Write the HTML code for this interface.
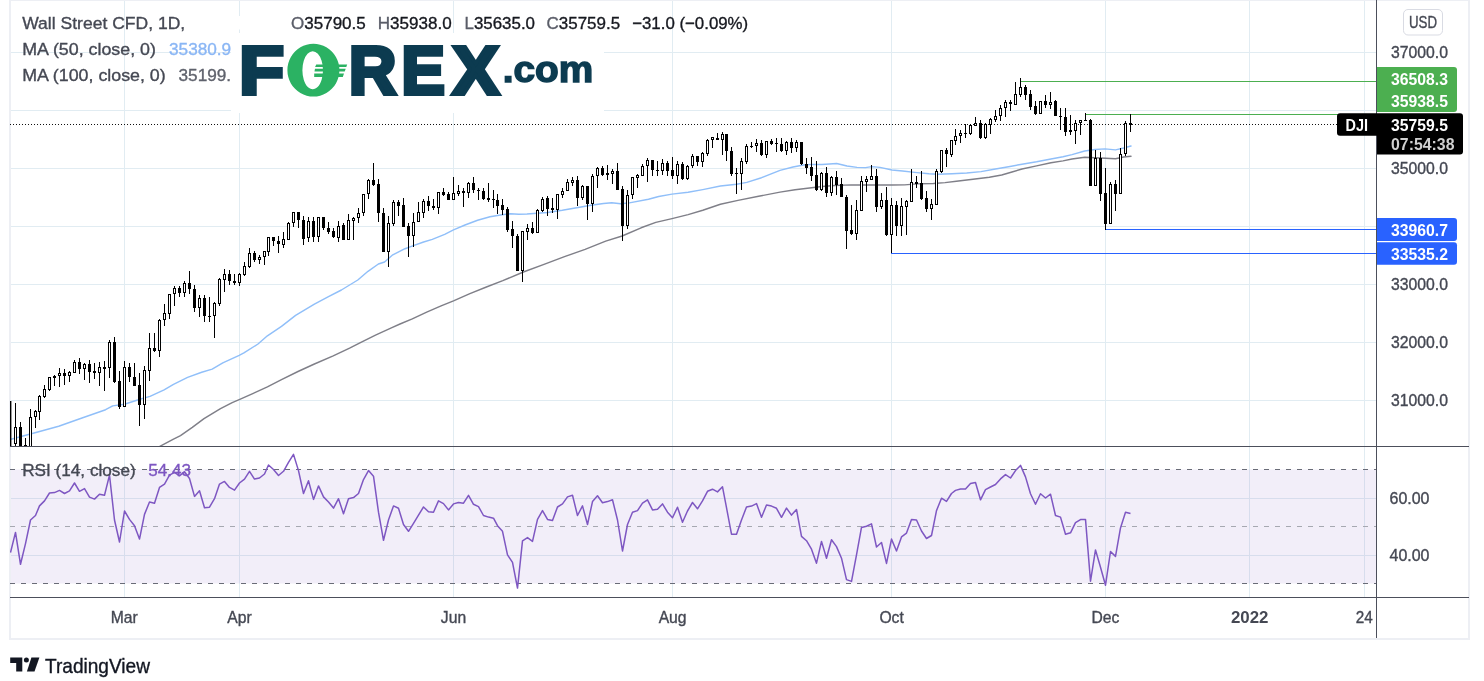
<!DOCTYPE html>
<html lang="en"><head><meta charset="utf-8"><title>Wall Street CFD chart</title>
<style>html,body{margin:0;padding:0;background:#fff}body{width:1484px;height:681px;overflow:hidden}</style></head>
<body>
<svg width="1484" height="681" viewBox="0 0 1484 681" style="display:block;font-family:'Liberation Sans',sans-serif">
<rect width="1484" height="681" fill="#fff"/>
<g stroke="#e1ecf2" stroke-width="1" shape-rendering="crispEdges">
<line x1="124.5" y1="1" x2="124.5" y2="597"/>
<line x1="239.5" y1="1" x2="239.5" y2="597"/>
<line x1="453.5" y1="1" x2="453.5" y2="597"/>
<line x1="672.5" y1="1" x2="672.5" y2="597"/>
<line x1="891.5" y1="1" x2="891.5" y2="597"/>
<line x1="1105.5" y1="1" x2="1105.5" y2="597"/>
<line x1="1249.5" y1="1" x2="1249.5" y2="597"/>
<line x1="1364.5" y1="1" x2="1364.5" y2="597"/>
<line x1="10" y1="52.5" x2="1376" y2="52.5"/>
<line x1="10" y1="110.5" x2="1376" y2="110.5"/>
<line x1="10" y1="168.5" x2="1376" y2="168.5"/>
<line x1="10" y1="226.5" x2="1376" y2="226.5"/>
<line x1="10" y1="284.5" x2="1376" y2="284.5"/>
<line x1="10" y1="342.5" x2="1376" y2="342.5"/>
<line x1="10" y1="400.5" x2="1376" y2="400.5"/>
<line x1="10" y1="498.5" x2="1376" y2="498.5"/>
<line x1="10" y1="555.5" x2="1376" y2="555.5"/>
</g>
<rect x="10" y="469.5" width="1366" height="114" fill="rgba(126,87,194,0.1)"/>
<g fill="#edeff4" shape-rendering="crispEdges"><rect x="9" y="0" width="2" height="640"/><rect x="1468" y="0" width="2" height="640"/><rect x="9" y="638" width="1461" height="2"/><rect x="9" y="0" width="1461" height="1"/></g>
<defs><clipPath id="cp"><rect x="10" y="0" width="1366" height="446"/></clipPath><clipPath id="cr"><rect x="10" y="447" width="1366" height="150"/></clipPath><clipPath id="lg"><rect x="0" y="0" width="231" height="120"/></clipPath></defs>
<g stroke-width="1" fill="none" shape-rendering="crispEdges">
<line x1="10" y1="469.5" x2="1376" y2="469.5" stroke="#696c77" stroke-dasharray="5 6"/>
<line x1="10" y1="526.5" x2="1376" y2="526.5" stroke="#a6a8b1" stroke-dasharray="5 6"/>
<line x1="10" y1="583.5" x2="1376" y2="583.5" stroke="#696c77" stroke-dasharray="5 6"/>
</g>
<polyline clip-path="url(#cr)" points="10.5,552.6 15.5,532.4 20.5,564.3 25.5,543.6 30.5,520.0 35.5,515.5 39.5,505.9 44.5,500.9 49.5,493.0 54.5,492.6 59.5,490.4 64.5,493.5 69.5,490.8 74.5,483.0 79.5,491.3 84.5,488.6 89.5,497.1 94.5,499.1 99.5,494.2 104.5,495.3 109.5,475.1 114.5,520.0 119.5,542.0 124.5,511.0 129.5,519.4 134.5,525.7 139.5,539.1 144.5,514.4 149.5,502.0 154.5,503.2 159.5,487.4 164.5,484.1 169.5,475.1 174.5,472.4 179.5,475.8 184.5,471.7 189.5,478.5 194.5,496.4 199.5,490.8 204.5,507.7 209.5,507.2 214.5,498.7 219.5,484.1 224.5,481.4 229.5,487.4 234.5,490.1 239.5,483.0 244.5,479.1 249.5,471.3 254.5,479.1 259.5,478.0 264.5,474.0 268.5,465.0 273.5,469.5 278.5,475.5 283.5,471.3 288.5,462.3 293.5,454.4 298.5,470.6 303.5,493.5 308.5,480.7 313.5,499.4 318.5,485.9 323.5,496.9 328.5,502.0 333.5,508.1 338.5,498.7 343.5,513.7 348.5,498.7 353.5,497.6 358.5,493.5 363.5,479.6 368.5,470.6 373.5,476.2 378.5,512.2 383.5,540.3 388.5,520.0 393.5,505.9 398.5,508.3 403.5,524.5 408.5,531.3 413.5,523.4 418.5,515.1 423.5,507.0 428.5,511.7 433.5,512.2 438.5,500.9 443.5,503.6 448.5,509.9 453.5,503.9 458.5,502.5 463.5,503.2 468.5,495.3 473.5,504.3 478.5,506.6 483.5,515.5 488.5,517.1 493.5,518.2 497.5,525.7 502.5,531.3 507.5,554.9 512.5,562.3 517.5,588.1 522.5,540.9 527.5,537.6 532.5,541.4 537.5,519.4 542.5,510.6 547.5,519.4 552.5,520.5 557.5,507.0 562.5,503.9 567.5,496.9 572.5,495.3 577.5,515.5 582.5,505.9 587.5,524.5 592.5,501.6 597.5,495.8 602.5,502.7 607.5,501.6 612.5,499.8 617.5,520.0 622.5,551.0 627.5,524.5 632.5,512.2 637.5,510.6 642.5,503.2 647.5,499.8 652.5,509.9 657.5,509.2 662.5,503.9 667.5,512.2 672.5,517.8 677.5,507.2 682.5,522.3 687.5,511.0 692.5,502.5 697.5,508.8 702.5,500.9 707.5,491.3 712.5,489.2 717.5,491.9 722.5,486.8 726.5,507.7 731.5,534.2 736.5,534.2 741.5,520.0 746.5,507.0 751.5,506.1 756.5,503.6 761.5,517.3 766.5,505.0 771.5,506.1 776.5,508.3 781.5,517.3 786.5,508.1 791.5,515.1 796.5,509.5 801.5,536.4 806.5,540.7 811.5,549.2 816.5,563.2 821.5,541.4 826.5,558.2 831.5,539.8 836.5,546.6 841.5,558.2 846.5,579.6 851.5,581.4 856.5,554.9 861.5,527.4 866.5,526.3 871.5,523.9 876.5,547.0 881.5,542.5 886.5,563.4 891.5,539.1 896.5,551.0 901.5,536.9 906.5,533.1 911.5,519.6 916.5,520.0 921.5,531.0 926.5,538.5 931.5,535.5 936.5,510.6 941.5,498.2 946.5,501.4 951.5,493.5 955.5,490.4 960.5,489.0 965.5,489.0 970.5,483.6 975.5,482.5 980.5,499.8 985.5,489.7 990.5,487.0 995.5,484.5 1000.5,478.9 1005.5,474.6 1010.5,478.0 1015.5,470.6 1020.5,465.4 1025.5,476.9 1030.5,493.7 1035.5,504.3 1040.5,493.7 1045.5,498.0 1050.5,494.2 1055.5,515.5 1060.5,517.1 1065.5,534.2 1070.5,532.8 1075.5,522.7 1080.5,519.6 1085.5,519.4 1090.5,581.2 1095.5,549.9 1100.5,567.2 1105.5,585.2 1110.5,551.5 1115.5,556.4 1120.5,527.9 1125.5,512.2 1130.5,513.5" fill="none" stroke="#7e57c2" stroke-width="1.5" stroke-linejoin="round"/>
<g clip-path="url(#cp)" fill="none" stroke-linejoin="round" stroke-linecap="round">
<polyline points="159.4,446.6 173.5,439.1 180.5,435.6 192.3,427.4 204.0,418.7 220.5,408.6 232.2,402.7 239.2,399.7 253.3,393.3 267.4,386.8 281.5,379.7 298.0,371.5 314.4,364.0 333.2,355.8 349.6,348.2 361.4,342.1 375.5,335.1 391.9,327.6 400.0,324.0 412.3,318.9 426.7,312.1 441.1,305.9 453.5,300.8 469.9,293.6 486.4,287.0 502.8,280.6 523.4,272.0 544.0,264.4 564.5,256.6 585.1,249.4 605.7,241.1 622.1,236.0 641.1,227.8 655.8,222.4 672.0,218.6 688.1,214.6 702.8,210.2 720.4,204.3 738.0,200.4 758.6,196.3 780.0,192.1 795.0,189.7 807.5,188.2 822.0,186.5 834.7,185.5 851.0,184.9 871.7,184.9 892.0,185.0 904.6,184.9 917.0,183.9 933.4,183.5 945.0,182.6 956.4,181.3 973.0,179.2 989.3,177.2 1001.7,175.0 1012.0,172.0 1022.0,169.0 1036.6,165.9 1051.0,162.8 1063.0,160.9 1072.0,159.0 1084.7,157.3 1095.0,157.7 1105.4,158.3 1115.5,158.7 1123.7,157.0 1131.0,156.3" stroke="#7f7f88" stroke-width="1.45"/>
<polyline points="10.0,439.5 35.0,432.7 58.7,426.2 82.0,418.0 105.6,409.7 112.7,405.9 124.4,404.3 140.8,399.0 150.0,396.4 164.1,389.8 173.5,384.4 187.6,377.4 201.7,372.2 212.2,369.1 222.8,362.8 239.2,355.3 243.9,352.9 258.0,344.0 267.4,335.8 281.5,326.4 295.6,315.4 314.4,304.1 328.5,296.6 341.4,290.0 357.8,280.0 368.0,271.3 378.4,264.0 384.6,262.0 392.8,254.8 405.0,248.7 413.4,245.6 423.6,242.0 432.3,239.4 444.7,234.3 453.5,229.8 465.0,225.0 477.6,220.3 490.0,216.8 502.0,214.8 510.5,213.7 518.7,214.3 527.0,214.0 537.0,213.3 547.5,212.5 562.3,210.3 576.7,207.7 591.0,205.2 603.5,203.5 611.7,202.8 620.6,203.8 629.4,202.9 648.5,199.2 658.7,196.5 672.0,194.1 688.1,192.3 702.8,189.6 720.4,186.0 736.6,184.2 746.8,182.4 761.5,177.7 780.0,170.4 793.0,167.0 803.4,165.0 811.6,164.4 822.0,164.5 836.7,163.5 847.0,166.0 857.0,167.4 865.5,167.6 871.7,166.6 880.0,167.4 892.0,170.0 902.5,171.0 917.0,172.6 929.0,173.8 937.5,174.2 952.0,173.7 966.7,173.0 981.0,171.6 995.5,169.0 1010.0,166.5 1022.0,164.2 1036.6,161.8 1051.0,159.0 1063.0,156.8 1072.0,154.6 1084.7,151.0 1095.0,149.5 1105.0,148.9 1115.5,149.9 1123.7,148.0 1131.0,146.0" stroke="#90bff9" stroke-width="1.45"/>
</g>
<g shape-rendering="crispEdges" stroke-width="1">
<line x1="1020" y1="81.5" x2="1376" y2="81.5" stroke="#4caf50"/>
<line x1="1085" y1="114.5" x2="1376" y2="114.5" stroke="#4caf50"/>
<line x1="1105" y1="229.5" x2="1376" y2="229.5" stroke="#2962ff"/>
<line x1="891" y1="253.5" x2="1376" y2="253.5" stroke="#2962ff"/>
</g>
<line x1="10" y1="124.5" x2="1337" y2="124.5" stroke="#111" stroke-width="1" stroke-dasharray="1 2" shape-rendering="crispEdges"/>
<g clip-path="url(#cp)" shape-rendering="crispEdges">
<rect x="10" y="401" width="1.4" height="46" fill="#000" shape-rendering="geometricPrecision"/>
<rect x="15" y="403" width="1" height="44" fill="#000"/>
<rect x="14" y="427" width="3" height="17" fill="#000"/>
<rect x="15" y="428" width="1" height="15" fill="#fff"/>
<rect x="20" y="422" width="1" height="25" fill="#000"/>
<rect x="19" y="427" width="3" height="20" fill="#000"/>
<rect x="25" y="438" width="1" height="9" fill="#000"/>
<rect x="24" y="445" width="3" height="2" fill="#000"/>
<rect x="30" y="409" width="1" height="38" fill="#000"/>
<rect x="29" y="417" width="3" height="30" fill="#000"/>
<rect x="30" y="418" width="1" height="28" fill="#fff"/>
<rect x="35" y="410" width="1" height="18" fill="#000"/>
<rect x="34" y="411" width="3" height="6" fill="#000"/>
<rect x="35" y="412" width="1" height="4" fill="#fff"/>
<rect x="39" y="395" width="1" height="25" fill="#000"/>
<rect x="38" y="396" width="3" height="16" fill="#000"/>
<rect x="39" y="397" width="1" height="14" fill="#fff"/>
<rect x="44" y="385" width="1" height="13" fill="#000"/>
<rect x="43" y="389" width="3" height="8" fill="#000"/>
<rect x="44" y="390" width="1" height="6" fill="#fff"/>
<rect x="49" y="377" width="1" height="14" fill="#000"/>
<rect x="48" y="377" width="3" height="13" fill="#000"/>
<rect x="49" y="378" width="1" height="11" fill="#fff"/>
<rect x="54" y="375" width="1" height="11" fill="#000"/>
<rect x="53" y="376" width="3" height="2" fill="#000"/>
<rect x="59" y="368" width="1" height="19" fill="#000"/>
<rect x="58" y="373" width="3" height="3" fill="#000"/>
<rect x="59" y="374" width="1" height="1" fill="#fff"/>
<rect x="64" y="369" width="1" height="16" fill="#000"/>
<rect x="63" y="373" width="3" height="3" fill="#000"/>
<rect x="69" y="371" width="1" height="11" fill="#000"/>
<rect x="68" y="372" width="3" height="4" fill="#000"/>
<rect x="69" y="373" width="1" height="2" fill="#fff"/>
<rect x="74" y="360" width="1" height="13" fill="#000"/>
<rect x="73" y="362" width="3" height="11" fill="#000"/>
<rect x="74" y="363" width="1" height="9" fill="#fff"/>
<rect x="79" y="358" width="1" height="16" fill="#000"/>
<rect x="78" y="362" width="3" height="7" fill="#000"/>
<rect x="84" y="363" width="1" height="17" fill="#000"/>
<rect x="83" y="364" width="3" height="5" fill="#000"/>
<rect x="84" y="365" width="1" height="3" fill="#fff"/>
<rect x="89" y="360" width="1" height="23" fill="#000"/>
<rect x="88" y="364" width="3" height="8" fill="#000"/>
<rect x="94" y="363" width="1" height="16" fill="#000"/>
<rect x="93" y="371" width="3" height="2" fill="#000"/>
<rect x="99" y="362" width="1" height="24" fill="#000"/>
<rect x="98" y="367" width="3" height="6" fill="#000"/>
<rect x="99" y="368" width="1" height="4" fill="#fff"/>
<rect x="104" y="361" width="1" height="30" fill="#000"/>
<rect x="103" y="367" width="3" height="2" fill="#000"/>
<rect x="109" y="340" width="1" height="38" fill="#000"/>
<rect x="108" y="342" width="3" height="26" fill="#000"/>
<rect x="109" y="343" width="1" height="24" fill="#fff"/>
<rect x="114" y="337" width="1" height="46" fill="#000"/>
<rect x="113" y="342" width="3" height="40" fill="#000"/>
<rect x="119" y="371" width="1" height="38" fill="#000"/>
<rect x="118" y="381" width="3" height="26" fill="#000"/>
<rect x="124" y="361" width="1" height="46" fill="#000"/>
<rect x="123" y="367" width="3" height="40" fill="#000"/>
<rect x="124" y="368" width="1" height="38" fill="#fff"/>
<rect x="129" y="363" width="1" height="19" fill="#000"/>
<rect x="128" y="367" width="3" height="10" fill="#000"/>
<rect x="134" y="363" width="1" height="23" fill="#000"/>
<rect x="133" y="377" width="3" height="9" fill="#000"/>
<rect x="139" y="373" width="1" height="53" fill="#000"/>
<rect x="138" y="385" width="3" height="20" fill="#000"/>
<rect x="144" y="366" width="1" height="53" fill="#000"/>
<rect x="143" y="370" width="3" height="35" fill="#000"/>
<rect x="144" y="371" width="1" height="33" fill="#fff"/>
<rect x="149" y="333" width="1" height="48" fill="#000"/>
<rect x="148" y="348" width="3" height="23" fill="#000"/>
<rect x="149" y="349" width="1" height="21" fill="#fff"/>
<rect x="154" y="333" width="1" height="19" fill="#000"/>
<rect x="153" y="348" width="3" height="3" fill="#000"/>
<rect x="159" y="319" width="1" height="38" fill="#000"/>
<rect x="158" y="320" width="3" height="31" fill="#000"/>
<rect x="159" y="321" width="1" height="29" fill="#fff"/>
<rect x="164" y="304" width="1" height="22" fill="#000"/>
<rect x="163" y="313" width="3" height="7" fill="#000"/>
<rect x="164" y="314" width="1" height="5" fill="#fff"/>
<rect x="169" y="294" width="1" height="25" fill="#000"/>
<rect x="168" y="294" width="3" height="20" fill="#000"/>
<rect x="169" y="295" width="1" height="18" fill="#fff"/>
<rect x="174" y="286" width="1" height="20" fill="#000"/>
<rect x="173" y="288" width="3" height="6" fill="#000"/>
<rect x="174" y="289" width="1" height="4" fill="#fff"/>
<rect x="179" y="286" width="1" height="11" fill="#000"/>
<rect x="178" y="288" width="3" height="5" fill="#000"/>
<rect x="184" y="281" width="1" height="16" fill="#000"/>
<rect x="183" y="283" width="3" height="10" fill="#000"/>
<rect x="184" y="284" width="1" height="8" fill="#fff"/>
<rect x="189" y="271" width="1" height="23" fill="#000"/>
<rect x="188" y="283" width="3" height="6" fill="#000"/>
<rect x="194" y="285" width="1" height="27" fill="#000"/>
<rect x="193" y="289" width="3" height="19" fill="#000"/>
<rect x="199" y="295" width="1" height="22" fill="#000"/>
<rect x="198" y="298" width="3" height="10" fill="#000"/>
<rect x="199" y="299" width="1" height="8" fill="#fff"/>
<rect x="204" y="295" width="1" height="27" fill="#000"/>
<rect x="203" y="298" width="3" height="18" fill="#000"/>
<rect x="209" y="297" width="1" height="25" fill="#000"/>
<rect x="208" y="316" width="3" height="1" fill="#000"/>
<rect x="214" y="302" width="1" height="36" fill="#000"/>
<rect x="213" y="303" width="3" height="13" fill="#000"/>
<rect x="214" y="304" width="1" height="11" fill="#fff"/>
<rect x="219" y="278" width="1" height="28" fill="#000"/>
<rect x="218" y="279" width="3" height="25" fill="#000"/>
<rect x="219" y="280" width="1" height="23" fill="#fff"/>
<rect x="224" y="269" width="1" height="23" fill="#000"/>
<rect x="223" y="274" width="3" height="6" fill="#000"/>
<rect x="224" y="275" width="1" height="4" fill="#fff"/>
<rect x="229" y="270" width="1" height="15" fill="#000"/>
<rect x="228" y="274" width="3" height="7" fill="#000"/>
<rect x="234" y="274" width="1" height="11" fill="#000"/>
<rect x="233" y="281" width="3" height="2" fill="#000"/>
<rect x="239" y="273" width="1" height="13" fill="#000"/>
<rect x="238" y="274" width="3" height="9" fill="#000"/>
<rect x="239" y="275" width="1" height="7" fill="#fff"/>
<rect x="244" y="262" width="1" height="14" fill="#000"/>
<rect x="243" y="266" width="3" height="9" fill="#000"/>
<rect x="244" y="267" width="1" height="7" fill="#fff"/>
<rect x="249" y="248" width="1" height="20" fill="#000"/>
<rect x="248" y="253" width="3" height="14" fill="#000"/>
<rect x="249" y="254" width="1" height="12" fill="#fff"/>
<rect x="254" y="251" width="1" height="11" fill="#000"/>
<rect x="253" y="253" width="3" height="7" fill="#000"/>
<rect x="259" y="255" width="1" height="9" fill="#000"/>
<rect x="258" y="257" width="3" height="3" fill="#000"/>
<rect x="259" y="258" width="1" height="1" fill="#fff"/>
<rect x="264" y="251" width="1" height="14" fill="#000"/>
<rect x="263" y="251" width="3" height="6" fill="#000"/>
<rect x="264" y="252" width="1" height="4" fill="#fff"/>
<rect x="268" y="237" width="1" height="19" fill="#000"/>
<rect x="267" y="237" width="3" height="15" fill="#000"/>
<rect x="268" y="238" width="1" height="13" fill="#fff"/>
<rect x="273" y="237" width="1" height="9" fill="#000"/>
<rect x="272" y="237" width="3" height="4" fill="#000"/>
<rect x="278" y="236" width="1" height="17" fill="#000"/>
<rect x="277" y="241" width="3" height="3" fill="#000"/>
<rect x="283" y="232" width="1" height="16" fill="#000"/>
<rect x="282" y="239" width="3" height="6" fill="#000"/>
<rect x="283" y="240" width="1" height="4" fill="#fff"/>
<rect x="288" y="222" width="1" height="18" fill="#000"/>
<rect x="287" y="223" width="3" height="17" fill="#000"/>
<rect x="288" y="224" width="1" height="15" fill="#fff"/>
<rect x="293" y="212" width="1" height="15" fill="#000"/>
<rect x="292" y="212" width="3" height="11" fill="#000"/>
<rect x="293" y="213" width="1" height="9" fill="#fff"/>
<rect x="298" y="212" width="1" height="16" fill="#000"/>
<rect x="297" y="212" width="3" height="8" fill="#000"/>
<rect x="303" y="216" width="1" height="29" fill="#000"/>
<rect x="302" y="220" width="3" height="19" fill="#000"/>
<rect x="308" y="217" width="1" height="25" fill="#000"/>
<rect x="307" y="221" width="3" height="17" fill="#000"/>
<rect x="308" y="222" width="1" height="15" fill="#fff"/>
<rect x="313" y="217" width="1" height="25" fill="#000"/>
<rect x="312" y="221" width="3" height="16" fill="#000"/>
<rect x="318" y="217" width="1" height="25" fill="#000"/>
<rect x="317" y="217" width="3" height="20" fill="#000"/>
<rect x="318" y="218" width="1" height="18" fill="#fff"/>
<rect x="323" y="217" width="1" height="13" fill="#000"/>
<rect x="322" y="217" width="3" height="11" fill="#000"/>
<rect x="328" y="222" width="1" height="12" fill="#000"/>
<rect x="327" y="228" width="3" height="4" fill="#000"/>
<rect x="333" y="228" width="1" height="10" fill="#000"/>
<rect x="332" y="231" width="3" height="6" fill="#000"/>
<rect x="338" y="221" width="1" height="21" fill="#000"/>
<rect x="337" y="226" width="3" height="12" fill="#000"/>
<rect x="338" y="227" width="1" height="10" fill="#fff"/>
<rect x="343" y="223" width="1" height="17" fill="#000"/>
<rect x="342" y="225" width="3" height="15" fill="#000"/>
<rect x="348" y="214" width="1" height="26" fill="#000"/>
<rect x="347" y="220" width="3" height="20" fill="#000"/>
<rect x="348" y="221" width="1" height="18" fill="#fff"/>
<rect x="353" y="217" width="1" height="23" fill="#000"/>
<rect x="352" y="218" width="3" height="3" fill="#000"/>
<rect x="353" y="219" width="1" height="1" fill="#fff"/>
<rect x="358" y="208" width="1" height="15" fill="#000"/>
<rect x="357" y="213" width="3" height="5" fill="#000"/>
<rect x="358" y="214" width="1" height="3" fill="#fff"/>
<rect x="363" y="194" width="1" height="22" fill="#000"/>
<rect x="362" y="194" width="3" height="19" fill="#000"/>
<rect x="363" y="195" width="1" height="17" fill="#fff"/>
<rect x="368" y="179" width="1" height="20" fill="#000"/>
<rect x="367" y="180" width="3" height="14" fill="#000"/>
<rect x="368" y="181" width="1" height="12" fill="#fff"/>
<rect x="373" y="163" width="1" height="23" fill="#000"/>
<rect x="372" y="180" width="3" height="5" fill="#000"/>
<rect x="378" y="179" width="1" height="43" fill="#000"/>
<rect x="377" y="184" width="3" height="29" fill="#000"/>
<rect x="383" y="208" width="1" height="44" fill="#000"/>
<rect x="382" y="213" width="3" height="39" fill="#000"/>
<rect x="388" y="216" width="1" height="51" fill="#000"/>
<rect x="387" y="223" width="3" height="29" fill="#000"/>
<rect x="388" y="224" width="1" height="27" fill="#fff"/>
<rect x="393" y="200" width="1" height="26" fill="#000"/>
<rect x="392" y="202" width="3" height="22" fill="#000"/>
<rect x="393" y="203" width="1" height="20" fill="#fff"/>
<rect x="398" y="200" width="1" height="16" fill="#000"/>
<rect x="397" y="202" width="3" height="4" fill="#000"/>
<rect x="403" y="198" width="1" height="29" fill="#000"/>
<rect x="402" y="205" width="3" height="22" fill="#000"/>
<rect x="408" y="223" width="1" height="34" fill="#000"/>
<rect x="407" y="226" width="3" height="10" fill="#000"/>
<rect x="413" y="213" width="1" height="34" fill="#000"/>
<rect x="412" y="222" width="3" height="14" fill="#000"/>
<rect x="413" y="223" width="1" height="12" fill="#fff"/>
<rect x="418" y="202" width="1" height="20" fill="#000"/>
<rect x="417" y="212" width="3" height="10" fill="#000"/>
<rect x="418" y="213" width="1" height="8" fill="#fff"/>
<rect x="423" y="199" width="1" height="19" fill="#000"/>
<rect x="422" y="201" width="3" height="12" fill="#000"/>
<rect x="423" y="202" width="1" height="10" fill="#fff"/>
<rect x="428" y="196" width="1" height="15" fill="#000"/>
<rect x="427" y="201" width="3" height="5" fill="#000"/>
<rect x="433" y="199" width="1" height="11" fill="#000"/>
<rect x="432" y="206" width="3" height="2" fill="#000"/>
<rect x="438" y="192" width="1" height="22" fill="#000"/>
<rect x="437" y="192" width="3" height="16" fill="#000"/>
<rect x="438" y="193" width="1" height="14" fill="#fff"/>
<rect x="443" y="188" width="1" height="8" fill="#000"/>
<rect x="442" y="192" width="3" height="3" fill="#000"/>
<rect x="448" y="192" width="1" height="8" fill="#000"/>
<rect x="447" y="194" width="3" height="6" fill="#000"/>
<rect x="453" y="177" width="1" height="23" fill="#000"/>
<rect x="452" y="193" width="3" height="7" fill="#000"/>
<rect x="453" y="194" width="1" height="5" fill="#fff"/>
<rect x="458" y="185" width="1" height="11" fill="#000"/>
<rect x="457" y="191" width="3" height="3" fill="#000"/>
<rect x="458" y="192" width="1" height="1" fill="#fff"/>
<rect x="463" y="188" width="1" height="19" fill="#000"/>
<rect x="462" y="191" width="3" height="2" fill="#000"/>
<rect x="468" y="182" width="1" height="16" fill="#000"/>
<rect x="467" y="183" width="3" height="10" fill="#000"/>
<rect x="468" y="184" width="1" height="8" fill="#fff"/>
<rect x="473" y="177" width="1" height="16" fill="#000"/>
<rect x="472" y="183" width="3" height="7" fill="#000"/>
<rect x="478" y="188" width="1" height="12" fill="#000"/>
<rect x="477" y="190" width="3" height="1" fill="#000"/>
<rect x="483" y="188" width="1" height="12" fill="#000"/>
<rect x="482" y="191" width="3" height="8" fill="#000"/>
<rect x="488" y="183" width="1" height="19" fill="#000"/>
<rect x="487" y="198" width="3" height="2" fill="#000"/>
<rect x="493" y="190" width="1" height="18" fill="#000"/>
<rect x="492" y="199" width="3" height="1" fill="#000"/>
<rect x="497" y="194" width="1" height="20" fill="#000"/>
<rect x="496" y="200" width="3" height="6" fill="#000"/>
<rect x="502" y="199" width="1" height="16" fill="#000"/>
<rect x="501" y="205" width="3" height="5" fill="#000"/>
<rect x="507" y="207" width="1" height="25" fill="#000"/>
<rect x="506" y="209" width="3" height="21" fill="#000"/>
<rect x="512" y="221" width="1" height="27" fill="#000"/>
<rect x="511" y="229" width="3" height="7" fill="#000"/>
<rect x="517" y="234" width="1" height="37" fill="#000"/>
<rect x="516" y="236" width="3" height="35" fill="#000"/>
<rect x="522" y="231" width="1" height="51" fill="#000"/>
<rect x="521" y="231" width="3" height="40" fill="#000"/>
<rect x="522" y="232" width="1" height="38" fill="#fff"/>
<rect x="527" y="224" width="1" height="16" fill="#000"/>
<rect x="526" y="228" width="3" height="4" fill="#000"/>
<rect x="527" y="229" width="1" height="2" fill="#fff"/>
<rect x="532" y="222" width="1" height="12" fill="#000"/>
<rect x="531" y="228" width="3" height="5" fill="#000"/>
<rect x="537" y="209" width="1" height="24" fill="#000"/>
<rect x="536" y="210" width="3" height="23" fill="#000"/>
<rect x="537" y="211" width="1" height="21" fill="#fff"/>
<rect x="542" y="197" width="1" height="15" fill="#000"/>
<rect x="541" y="199" width="3" height="12" fill="#000"/>
<rect x="542" y="200" width="1" height="10" fill="#fff"/>
<rect x="547" y="196" width="1" height="20" fill="#000"/>
<rect x="546" y="198" width="3" height="11" fill="#000"/>
<rect x="552" y="198" width="1" height="15" fill="#000"/>
<rect x="551" y="208" width="3" height="2" fill="#000"/>
<rect x="557" y="194" width="1" height="25" fill="#000"/>
<rect x="556" y="194" width="3" height="16" fill="#000"/>
<rect x="557" y="195" width="1" height="14" fill="#fff"/>
<rect x="562" y="188" width="1" height="10" fill="#000"/>
<rect x="561" y="191" width="3" height="4" fill="#000"/>
<rect x="562" y="192" width="1" height="2" fill="#fff"/>
<rect x="567" y="179" width="1" height="12" fill="#000"/>
<rect x="566" y="182" width="3" height="9" fill="#000"/>
<rect x="567" y="183" width="1" height="7" fill="#fff"/>
<rect x="572" y="177" width="1" height="9" fill="#000"/>
<rect x="571" y="180" width="3" height="3" fill="#000"/>
<rect x="572" y="181" width="1" height="1" fill="#fff"/>
<rect x="577" y="176" width="1" height="30" fill="#000"/>
<rect x="576" y="180" width="3" height="18" fill="#000"/>
<rect x="582" y="185" width="1" height="15" fill="#000"/>
<rect x="581" y="186" width="3" height="12" fill="#000"/>
<rect x="582" y="187" width="1" height="10" fill="#fff"/>
<rect x="587" y="186" width="1" height="34" fill="#000"/>
<rect x="586" y="186" width="3" height="18" fill="#000"/>
<rect x="592" y="174" width="1" height="38" fill="#000"/>
<rect x="591" y="176" width="3" height="28" fill="#000"/>
<rect x="592" y="177" width="1" height="26" fill="#fff"/>
<rect x="597" y="167" width="1" height="21" fill="#000"/>
<rect x="596" y="168" width="3" height="8" fill="#000"/>
<rect x="597" y="169" width="1" height="6" fill="#fff"/>
<rect x="602" y="166" width="1" height="10" fill="#000"/>
<rect x="601" y="168" width="3" height="7" fill="#000"/>
<rect x="607" y="165" width="1" height="15" fill="#000"/>
<rect x="606" y="173" width="3" height="2" fill="#000"/>
<rect x="612" y="169" width="1" height="15" fill="#000"/>
<rect x="611" y="171" width="3" height="3" fill="#000"/>
<rect x="612" y="172" width="1" height="1" fill="#fff"/>
<rect x="617" y="163" width="1" height="27" fill="#000"/>
<rect x="616" y="171" width="3" height="19" fill="#000"/>
<rect x="622" y="186" width="1" height="55" fill="#000"/>
<rect x="621" y="189" width="3" height="37" fill="#000"/>
<rect x="627" y="190" width="1" height="39" fill="#000"/>
<rect x="626" y="195" width="3" height="31" fill="#000"/>
<rect x="627" y="196" width="1" height="29" fill="#fff"/>
<rect x="632" y="177" width="1" height="22" fill="#000"/>
<rect x="631" y="177" width="3" height="18" fill="#000"/>
<rect x="632" y="178" width="1" height="16" fill="#fff"/>
<rect x="637" y="174" width="1" height="14" fill="#000"/>
<rect x="636" y="175" width="3" height="3" fill="#000"/>
<rect x="637" y="176" width="1" height="1" fill="#fff"/>
<rect x="642" y="164" width="1" height="12" fill="#000"/>
<rect x="641" y="166" width="3" height="10" fill="#000"/>
<rect x="642" y="167" width="1" height="8" fill="#fff"/>
<rect x="647" y="158" width="1" height="24" fill="#000"/>
<rect x="646" y="160" width="3" height="6" fill="#000"/>
<rect x="647" y="161" width="1" height="4" fill="#fff"/>
<rect x="652" y="160" width="1" height="16" fill="#000"/>
<rect x="651" y="160" width="3" height="10" fill="#000"/>
<rect x="657" y="161" width="1" height="15" fill="#000"/>
<rect x="656" y="170" width="3" height="1" fill="#000"/>
<rect x="662" y="159" width="1" height="16" fill="#000"/>
<rect x="661" y="163" width="3" height="8" fill="#000"/>
<rect x="662" y="164" width="1" height="6" fill="#fff"/>
<rect x="667" y="161" width="1" height="15" fill="#000"/>
<rect x="666" y="163" width="3" height="8" fill="#000"/>
<rect x="672" y="157" width="1" height="22" fill="#000"/>
<rect x="671" y="170" width="3" height="6" fill="#000"/>
<rect x="677" y="161" width="1" height="23" fill="#000"/>
<rect x="676" y="164" width="3" height="12" fill="#000"/>
<rect x="677" y="165" width="1" height="10" fill="#fff"/>
<rect x="682" y="162" width="1" height="18" fill="#000"/>
<rect x="681" y="164" width="3" height="15" fill="#000"/>
<rect x="687" y="165" width="1" height="15" fill="#000"/>
<rect x="686" y="166" width="3" height="13" fill="#000"/>
<rect x="687" y="167" width="1" height="11" fill="#fff"/>
<rect x="692" y="154" width="1" height="14" fill="#000"/>
<rect x="691" y="156" width="3" height="10" fill="#000"/>
<rect x="692" y="157" width="1" height="8" fill="#fff"/>
<rect x="697" y="156" width="1" height="10" fill="#000"/>
<rect x="696" y="156" width="3" height="6" fill="#000"/>
<rect x="702" y="152" width="1" height="15" fill="#000"/>
<rect x="701" y="153" width="3" height="9" fill="#000"/>
<rect x="702" y="154" width="1" height="7" fill="#fff"/>
<rect x="707" y="139" width="1" height="17" fill="#000"/>
<rect x="706" y="140" width="3" height="14" fill="#000"/>
<rect x="707" y="141" width="1" height="12" fill="#fff"/>
<rect x="712" y="137" width="1" height="11" fill="#000"/>
<rect x="711" y="137" width="3" height="3" fill="#000"/>
<rect x="712" y="138" width="1" height="1" fill="#fff"/>
<rect x="717" y="133" width="1" height="7" fill="#000"/>
<rect x="716" y="138" width="3" height="2" fill="#000"/>
<rect x="722" y="132" width="1" height="23" fill="#000"/>
<rect x="721" y="134" width="3" height="6" fill="#000"/>
<rect x="722" y="135" width="1" height="4" fill="#fff"/>
<rect x="726" y="134" width="1" height="27" fill="#000"/>
<rect x="725" y="134" width="3" height="17" fill="#000"/>
<rect x="731" y="147" width="1" height="29" fill="#000"/>
<rect x="730" y="151" width="3" height="23" fill="#000"/>
<rect x="736" y="168" width="1" height="26" fill="#000"/>
<rect x="735" y="173" width="3" height="1" fill="#000"/>
<rect x="741" y="158" width="1" height="32" fill="#000"/>
<rect x="740" y="161" width="3" height="13" fill="#000"/>
<rect x="741" y="162" width="1" height="11" fill="#fff"/>
<rect x="746" y="144" width="1" height="20" fill="#000"/>
<rect x="745" y="146" width="3" height="16" fill="#000"/>
<rect x="746" y="147" width="1" height="14" fill="#fff"/>
<rect x="751" y="142" width="1" height="6" fill="#000"/>
<rect x="750" y="146" width="3" height="1" fill="#000"/>
<rect x="756" y="139" width="1" height="13" fill="#000"/>
<rect x="755" y="143" width="3" height="3" fill="#000"/>
<rect x="756" y="144" width="1" height="1" fill="#fff"/>
<rect x="761" y="140" width="1" height="16" fill="#000"/>
<rect x="760" y="143" width="3" height="12" fill="#000"/>
<rect x="766" y="141" width="1" height="17" fill="#000"/>
<rect x="765" y="141" width="3" height="14" fill="#000"/>
<rect x="766" y="142" width="1" height="12" fill="#fff"/>
<rect x="771" y="139" width="1" height="6" fill="#000"/>
<rect x="770" y="141" width="3" height="3" fill="#000"/>
<rect x="776" y="138" width="1" height="14" fill="#000"/>
<rect x="775" y="143" width="3" height="1" fill="#000"/>
<rect x="781" y="138" width="1" height="14" fill="#000"/>
<rect x="780" y="144" width="3" height="7" fill="#000"/>
<rect x="786" y="141" width="1" height="14" fill="#000"/>
<rect x="785" y="142" width="3" height="9" fill="#000"/>
<rect x="786" y="143" width="1" height="7" fill="#fff"/>
<rect x="791" y="138" width="1" height="15" fill="#000"/>
<rect x="790" y="142" width="3" height="6" fill="#000"/>
<rect x="796" y="140" width="1" height="12" fill="#000"/>
<rect x="795" y="142" width="3" height="6" fill="#000"/>
<rect x="796" y="143" width="1" height="4" fill="#fff"/>
<rect x="801" y="142" width="1" height="23" fill="#000"/>
<rect x="800" y="142" width="3" height="22" fill="#000"/>
<rect x="806" y="158" width="1" height="16" fill="#000"/>
<rect x="805" y="164" width="3" height="4" fill="#000"/>
<rect x="811" y="157" width="1" height="24" fill="#000"/>
<rect x="810" y="167" width="3" height="9" fill="#000"/>
<rect x="816" y="161" width="1" height="30" fill="#000"/>
<rect x="815" y="175" width="3" height="15" fill="#000"/>
<rect x="821" y="172" width="1" height="19" fill="#000"/>
<rect x="820" y="173" width="3" height="17" fill="#000"/>
<rect x="821" y="174" width="1" height="15" fill="#fff"/>
<rect x="826" y="167" width="1" height="30" fill="#000"/>
<rect x="825" y="173" width="3" height="20" fill="#000"/>
<rect x="831" y="176" width="1" height="20" fill="#000"/>
<rect x="830" y="177" width="3" height="16" fill="#000"/>
<rect x="831" y="178" width="1" height="14" fill="#fff"/>
<rect x="836" y="171" width="1" height="24" fill="#000"/>
<rect x="835" y="177" width="3" height="8" fill="#000"/>
<rect x="841" y="178" width="1" height="19" fill="#000"/>
<rect x="840" y="184" width="3" height="13" fill="#000"/>
<rect x="846" y="195" width="1" height="54" fill="#000"/>
<rect x="845" y="197" width="3" height="34" fill="#000"/>
<rect x="851" y="205" width="1" height="30" fill="#000"/>
<rect x="850" y="230" width="3" height="4" fill="#000"/>
<rect x="856" y="200" width="1" height="40" fill="#000"/>
<rect x="855" y="210" width="3" height="24" fill="#000"/>
<rect x="856" y="211" width="1" height="22" fill="#fff"/>
<rect x="861" y="176" width="1" height="35" fill="#000"/>
<rect x="860" y="181" width="3" height="30" fill="#000"/>
<rect x="861" y="182" width="1" height="28" fill="#fff"/>
<rect x="866" y="176" width="1" height="16" fill="#000"/>
<rect x="865" y="179" width="3" height="3" fill="#000"/>
<rect x="866" y="180" width="1" height="1" fill="#fff"/>
<rect x="871" y="165" width="1" height="15" fill="#000"/>
<rect x="870" y="176" width="3" height="4" fill="#000"/>
<rect x="871" y="177" width="1" height="2" fill="#fff"/>
<rect x="876" y="169" width="1" height="43" fill="#000"/>
<rect x="875" y="176" width="3" height="31" fill="#000"/>
<rect x="881" y="193" width="1" height="16" fill="#000"/>
<rect x="880" y="200" width="3" height="7" fill="#000"/>
<rect x="881" y="201" width="1" height="5" fill="#fff"/>
<rect x="886" y="187" width="1" height="49" fill="#000"/>
<rect x="885" y="200" width="3" height="35" fill="#000"/>
<rect x="891" y="198" width="1" height="55" fill="#000"/>
<rect x="890" y="205" width="3" height="30" fill="#000"/>
<rect x="891" y="206" width="1" height="28" fill="#fff"/>
<rect x="896" y="201" width="1" height="35" fill="#000"/>
<rect x="895" y="205" width="3" height="21" fill="#000"/>
<rect x="901" y="198" width="1" height="38" fill="#000"/>
<rect x="900" y="206" width="3" height="20" fill="#000"/>
<rect x="901" y="207" width="1" height="18" fill="#fff"/>
<rect x="906" y="200" width="1" height="35" fill="#000"/>
<rect x="905" y="201" width="3" height="6" fill="#000"/>
<rect x="906" y="202" width="1" height="4" fill="#fff"/>
<rect x="911" y="169" width="1" height="33" fill="#000"/>
<rect x="910" y="182" width="3" height="20" fill="#000"/>
<rect x="911" y="183" width="1" height="18" fill="#fff"/>
<rect x="916" y="176" width="1" height="12" fill="#000"/>
<rect x="915" y="182" width="3" height="2" fill="#000"/>
<rect x="921" y="171" width="1" height="29" fill="#000"/>
<rect x="920" y="183" width="3" height="16" fill="#000"/>
<rect x="926" y="191" width="1" height="21" fill="#000"/>
<rect x="925" y="198" width="3" height="11" fill="#000"/>
<rect x="931" y="199" width="1" height="21" fill="#000"/>
<rect x="930" y="204" width="3" height="5" fill="#000"/>
<rect x="931" y="205" width="1" height="3" fill="#fff"/>
<rect x="936" y="169" width="1" height="36" fill="#000"/>
<rect x="935" y="171" width="3" height="34" fill="#000"/>
<rect x="936" y="172" width="1" height="32" fill="#fff"/>
<rect x="941" y="150" width="1" height="23" fill="#000"/>
<rect x="940" y="150" width="3" height="22" fill="#000"/>
<rect x="941" y="151" width="1" height="20" fill="#fff"/>
<rect x="946" y="148" width="1" height="19" fill="#000"/>
<rect x="945" y="150" width="3" height="4" fill="#000"/>
<rect x="951" y="140" width="1" height="17" fill="#000"/>
<rect x="950" y="140" width="3" height="15" fill="#000"/>
<rect x="951" y="141" width="1" height="13" fill="#fff"/>
<rect x="955" y="129" width="1" height="16" fill="#000"/>
<rect x="954" y="136" width="3" height="5" fill="#000"/>
<rect x="955" y="137" width="1" height="3" fill="#fff"/>
<rect x="960" y="130" width="1" height="13" fill="#000"/>
<rect x="959" y="133" width="3" height="3" fill="#000"/>
<rect x="960" y="134" width="1" height="1" fill="#fff"/>
<rect x="965" y="124" width="1" height="14" fill="#000"/>
<rect x="964" y="133" width="3" height="1" fill="#000"/>
<rect x="970" y="124" width="1" height="11" fill="#000"/>
<rect x="969" y="125" width="3" height="9" fill="#000"/>
<rect x="970" y="126" width="1" height="7" fill="#fff"/>
<rect x="975" y="117" width="1" height="9" fill="#000"/>
<rect x="974" y="123" width="3" height="3" fill="#000"/>
<rect x="975" y="124" width="1" height="1" fill="#fff"/>
<rect x="980" y="120" width="1" height="19" fill="#000"/>
<rect x="979" y="123" width="3" height="15" fill="#000"/>
<rect x="985" y="123" width="1" height="16" fill="#000"/>
<rect x="984" y="124" width="3" height="14" fill="#000"/>
<rect x="985" y="125" width="1" height="12" fill="#fff"/>
<rect x="990" y="118" width="1" height="16" fill="#000"/>
<rect x="989" y="119" width="3" height="6" fill="#000"/>
<rect x="990" y="120" width="1" height="4" fill="#fff"/>
<rect x="995" y="110" width="1" height="12" fill="#000"/>
<rect x="994" y="116" width="3" height="4" fill="#000"/>
<rect x="995" y="117" width="1" height="2" fill="#fff"/>
<rect x="1000" y="105" width="1" height="16" fill="#000"/>
<rect x="999" y="108" width="3" height="8" fill="#000"/>
<rect x="1000" y="109" width="1" height="6" fill="#fff"/>
<rect x="1005" y="100" width="1" height="17" fill="#000"/>
<rect x="1004" y="102" width="3" height="6" fill="#000"/>
<rect x="1005" y="103" width="1" height="4" fill="#fff"/>
<rect x="1010" y="100" width="1" height="11" fill="#000"/>
<rect x="1009" y="102" width="3" height="2" fill="#000"/>
<rect x="1015" y="82" width="1" height="23" fill="#000"/>
<rect x="1014" y="94" width="3" height="11" fill="#000"/>
<rect x="1015" y="95" width="1" height="9" fill="#fff"/>
<rect x="1020" y="78" width="1" height="19" fill="#000"/>
<rect x="1019" y="87" width="3" height="8" fill="#000"/>
<rect x="1020" y="88" width="1" height="6" fill="#fff"/>
<rect x="1025" y="85" width="1" height="15" fill="#000"/>
<rect x="1024" y="87" width="3" height="8" fill="#000"/>
<rect x="1030" y="90" width="1" height="20" fill="#000"/>
<rect x="1029" y="94" width="3" height="13" fill="#000"/>
<rect x="1035" y="101" width="1" height="14" fill="#000"/>
<rect x="1034" y="106" width="3" height="8" fill="#000"/>
<rect x="1040" y="101" width="1" height="13" fill="#000"/>
<rect x="1039" y="101" width="3" height="13" fill="#000"/>
<rect x="1040" y="102" width="1" height="11" fill="#fff"/>
<rect x="1045" y="95" width="1" height="13" fill="#000"/>
<rect x="1044" y="101" width="3" height="4" fill="#000"/>
<rect x="1050" y="92" width="1" height="17" fill="#000"/>
<rect x="1049" y="102" width="3" height="3" fill="#000"/>
<rect x="1050" y="103" width="1" height="1" fill="#fff"/>
<rect x="1055" y="100" width="1" height="16" fill="#000"/>
<rect x="1054" y="101" width="3" height="15" fill="#000"/>
<rect x="1060" y="108" width="1" height="22" fill="#000"/>
<rect x="1059" y="116" width="3" height="1" fill="#000"/>
<rect x="1065" y="108" width="1" height="28" fill="#000"/>
<rect x="1064" y="117" width="3" height="15" fill="#000"/>
<rect x="1070" y="115" width="1" height="20" fill="#000"/>
<rect x="1069" y="130" width="3" height="2" fill="#000"/>
<rect x="1075" y="120" width="1" height="24" fill="#000"/>
<rect x="1074" y="123" width="3" height="8" fill="#000"/>
<rect x="1075" y="124" width="1" height="6" fill="#fff"/>
<rect x="1080" y="120" width="1" height="15" fill="#000"/>
<rect x="1079" y="120" width="3" height="3" fill="#000"/>
<rect x="1080" y="121" width="1" height="1" fill="#fff"/>
<rect x="1085" y="113" width="1" height="8" fill="#000"/>
<rect x="1084" y="120" width="3" height="1" fill="#000"/>
<rect x="1090" y="119" width="1" height="67" fill="#000"/>
<rect x="1089" y="120" width="3" height="66" fill="#000"/>
<rect x="1095" y="150" width="1" height="36" fill="#000"/>
<rect x="1094" y="158" width="3" height="28" fill="#000"/>
<rect x="1095" y="159" width="1" height="26" fill="#fff"/>
<rect x="1100" y="152" width="1" height="49" fill="#000"/>
<rect x="1099" y="158" width="3" height="36" fill="#000"/>
<rect x="1105" y="168" width="1" height="62" fill="#000"/>
<rect x="1104" y="193" width="3" height="31" fill="#000"/>
<rect x="1110" y="182" width="1" height="42" fill="#000"/>
<rect x="1109" y="184" width="3" height="40" fill="#000"/>
<rect x="1110" y="185" width="1" height="38" fill="#fff"/>
<rect x="1115" y="180" width="1" height="31" fill="#000"/>
<rect x="1114" y="184" width="3" height="10" fill="#000"/>
<rect x="1120" y="148" width="1" height="46" fill="#000"/>
<rect x="1119" y="154" width="3" height="40" fill="#000"/>
<rect x="1120" y="155" width="1" height="38" fill="#fff"/>
<rect x="1125" y="121" width="1" height="35" fill="#000"/>
<rect x="1124" y="123" width="3" height="31" fill="#000"/>
<rect x="1125" y="124" width="1" height="29" fill="#fff"/>
<rect x="1130" y="114" width="1" height="18" fill="#000"/>
<rect x="1129" y="123" width="3" height="2" fill="#000"/>
</g>
<g stroke="#4c4f5b" stroke-width="1" shape-rendering="crispEdges">
<line x1="10" y1="446.5" x2="1469" y2="446.5"/>
<line x1="10" y1="597.5" x2="1469" y2="597.5"/>
<line x1="1376.5" y1="0" x2="1376.5" y2="638"/>
</g>
<rect x="231" y="33" width="373" height="80" fill="#fff"/>
<rect x="232" y="16" width="58" height="13.5" fill="#fff"/>
<g clip-path="url(#lg)">
<text x="22.2" y="28.9" font-size="17.2" fill="#454853" text-anchor="start" font-weight="normal" stroke="#454853" stroke-width="0.35" textLength="163" lengthAdjust="spacingAndGlyphs" >Wall Street CFD, 1D,</text>
<text x="22.2" y="55.2" font-size="17.2" fill="#454853" text-anchor="start" font-weight="normal" stroke="#454853" stroke-width="0.35" textLength="133.7" lengthAdjust="spacingAndGlyphs" >MA (50, close, 0)</text>
<text x="169" y="55.2" font-size="17.2" fill="#8ab6f5" text-anchor="start" font-weight="normal" stroke="#8ab6f5" stroke-width="0.35" textLength="62.2" lengthAdjust="spacingAndGlyphs" >35380.9</text>
<text x="22.2" y="81.4" font-size="17.2" fill="#454853" text-anchor="start" font-weight="normal" stroke="#454853" stroke-width="0.35" textLength="143.5" lengthAdjust="spacingAndGlyphs" >MA (100, close, 0)</text>
<text x="178.5" y="81.4" font-size="17.2" fill="#5f626c" text-anchor="start" font-weight="normal" stroke="#5f626c" stroke-width="0.35" textLength="62.2" lengthAdjust="spacingAndGlyphs" >35199.7</text>
</g>
<text x="291" y="28.9" font-size="17.2" textLength="74.8" lengthAdjust="spacingAndGlyphs"><tspan fill="#5a5d68" stroke="#5a5d68" stroke-width="0.35">O</tspan><tspan fill="#16181f" stroke="#16181f" stroke-width="0.35">35790.5</tspan></text>
<text x="377.8" y="28.9" font-size="17.2" textLength="73.9" lengthAdjust="spacingAndGlyphs"><tspan fill="#5a5d68" stroke="#5a5d68" stroke-width="0.35">H</tspan><tspan fill="#16181f" stroke="#16181f" stroke-width="0.35">35938.0</tspan></text>
<text x="464.5" y="28.9" font-size="17.2" textLength="70.5" lengthAdjust="spacingAndGlyphs"><tspan fill="#5a5d68" stroke="#5a5d68" stroke-width="0.35">L</tspan><tspan fill="#16181f" stroke="#16181f" stroke-width="0.35">35635.0</tspan></text>
<text x="546.5" y="28.9" font-size="17.2" textLength="73.7" lengthAdjust="spacingAndGlyphs"><tspan fill="#5a5d68" stroke="#5a5d68" stroke-width="0.35">C</tspan><tspan fill="#16181f" stroke="#16181f" stroke-width="0.35">35759.5</tspan></text>
<text x="632.2" y="28.9" font-size="17.2" fill="#16181f" text-anchor="start" font-weight="normal" stroke="#16181f" stroke-width="0.35" textLength="116" lengthAdjust="spacingAndGlyphs" >−31.0 (−0.09%)</text>
<text x="22.2" y="476.4" font-size="17.2" fill="#454853" text-anchor="start" font-weight="normal" stroke="#454853" stroke-width="0.35" textLength="113.5" lengthAdjust="spacingAndGlyphs" >RSI (14, close)</text>
<text x="148.3" y="476.4" font-size="17.2" fill="#7e57c2" text-anchor="start" font-weight="normal" stroke="#7e57c2" stroke-width="0.35" textLength="42.7" lengthAdjust="spacingAndGlyphs" >54.43</text>
<text x="1391" y="58.1" font-size="15.7" fill="#454853" text-anchor="start" font-weight="normal" stroke="#454853" stroke-width="0.35" textLength="57" lengthAdjust="spacingAndGlyphs" >37000.0</text>
<text x="1391" y="174.1" font-size="15.7" fill="#454853" text-anchor="start" font-weight="normal" stroke="#454853" stroke-width="0.35" textLength="57" lengthAdjust="spacingAndGlyphs" >35000.0</text>
<text x="1391" y="290.1" font-size="15.7" fill="#454853" text-anchor="start" font-weight="normal" stroke="#454853" stroke-width="0.35" textLength="57" lengthAdjust="spacingAndGlyphs" >33000.0</text>
<text x="1391" y="348.1" font-size="15.7" fill="#454853" text-anchor="start" font-weight="normal" stroke="#454853" stroke-width="0.35" textLength="57" lengthAdjust="spacingAndGlyphs" >32000.0</text>
<text x="1391" y="406.1" font-size="15.7" fill="#454853" text-anchor="start" font-weight="normal" stroke="#454853" stroke-width="0.35" textLength="57" lengthAdjust="spacingAndGlyphs" >31000.0</text>
<text x="1389.5" y="504.1" font-size="15.7" fill="#454853" text-anchor="start" font-weight="normal" stroke="#454853" stroke-width="0.35" textLength="40" lengthAdjust="spacingAndGlyphs" >60.00</text>
<text x="1389.5" y="561.1" font-size="15.7" fill="#454853" text-anchor="start" font-weight="normal" stroke="#454853" stroke-width="0.35" textLength="40" lengthAdjust="spacingAndGlyphs" >40.00</text>
<rect x="1403.5" y="9.5" width="39" height="25.5" rx="4.5" fill="#fff" stroke="#d9dbe3" stroke-width="1"/>
<text x="1423" y="27.6" font-size="15.7" fill="#454853" text-anchor="middle" font-weight="normal" stroke="#454853" stroke-width="0.35" textLength="28" lengthAdjust="spacingAndGlyphs" >USD</text>
<path d="M1377 67h77a3 3 0 0 1 3 3v39a3 3 0 0 1-3 3h-77z" fill="#4caf50"/>
<text x="1391" y="84.8" font-size="15.7" fill="#fff" text-anchor="start" font-weight="bold" textLength="57" lengthAdjust="spacingAndGlyphs" >36508.3</text>
<text x="1391" y="107.3" font-size="15.7" fill="#fff" text-anchor="start" font-weight="bold" textLength="57" lengthAdjust="spacingAndGlyphs" >35938.5</text>
<path d="M1340 113.2h120a3 3 0 0 1 3 3v35.4a3 3 0 0 1-3 3h-83v-18.8h-37a3 3 0 0 1-3-3v-16.6a3 3 0 0 1 3-3z" fill="#000"/>
<text x="1345.5" y="130.6" font-size="15.7" fill="#fff" text-anchor="start" font-weight="bold" textLength="22.5" lengthAdjust="spacingAndGlyphs" >DJI</text>
<text x="1391" y="130.9" font-size="15.7" fill="#fff" text-anchor="start" font-weight="bold" textLength="57" lengthAdjust="spacingAndGlyphs" >35759.5</text>
<text x="1391" y="149.6" font-size="15.7" fill="#d0d0d0" text-anchor="start" font-weight="bold" textLength="63.5" lengthAdjust="spacingAndGlyphs" >07:54:38</text>
<path d="M1377 218h77a3 3 0 0 1 3 3v17a3 3 0 0 1-3 3h-77z" fill="#2962ff"/>
<path d="M1377 242.3h77a3 3 0 0 1 3 3v16.5a3 3 0 0 1-3 3h-77z" fill="#2962ff"/>
<text x="1391" y="236.1" font-size="15.7" fill="#fff" text-anchor="start" font-weight="bold" textLength="57" lengthAdjust="spacingAndGlyphs" >33960.7</text>
<text x="1391" y="260.0" font-size="15.7" fill="#fff" text-anchor="start" font-weight="bold" textLength="57" lengthAdjust="spacingAndGlyphs" >33535.2</text>
<text x="124.3" y="622.5" font-size="15.7" fill="#454853" text-anchor="middle" font-weight="normal" stroke="#454853" stroke-width="0.35" >Mar</text>
<text x="239.4" y="622.5" font-size="15.7" fill="#454853" text-anchor="middle" font-weight="normal" stroke="#454853" stroke-width="0.35" >Apr</text>
<text x="453.5" y="622.5" font-size="15.7" fill="#454853" text-anchor="middle" font-weight="normal" stroke="#454853" stroke-width="0.35" >Jun</text>
<text x="672.6" y="622.5" font-size="15.7" fill="#454853" text-anchor="middle" font-weight="normal" stroke="#454853" stroke-width="0.35" >Aug</text>
<text x="891.6" y="622.5" font-size="15.7" fill="#454853" text-anchor="middle" font-weight="normal" stroke="#454853" stroke-width="0.35" >Oct</text>
<text x="1105.4" y="622.5" font-size="15.7" fill="#454853" text-anchor="middle" font-weight="normal" stroke="#454853" stroke-width="0.35" >Dec</text>
<text x="1249.7" y="622.7" font-size="15.7" fill="#454853" text-anchor="middle" font-weight="bold" textLength="37.5" lengthAdjust="spacingAndGlyphs" >2022</text>
<text x="1364.2" y="622.7" font-size="15.7" fill="#454853" text-anchor="middle" font-weight="normal" stroke="#454853" stroke-width="0.35" textLength="17" lengthAdjust="spacingAndGlyphs" >24</text>
<text x="239.0" y="93.8" font-size="68.6" font-weight="bold" fill="#0c3b50" stroke="#0c3b50" stroke-width="4" stroke-linejoin="miter" textLength="45.2" lengthAdjust="spacingAndGlyphs">F</text>
<text x="348.8" y="93.8" font-size="68.6" font-weight="bold" fill="#0c3b50" stroke="#0c3b50" stroke-width="4" stroke-linejoin="miter" textLength="47.8" lengthAdjust="spacingAndGlyphs">R</text>
<text x="401.3" y="93.8" font-size="68.6" font-weight="bold" fill="#0c3b50" stroke="#0c3b50" stroke-width="4" stroke-linejoin="miter" textLength="43.8" lengthAdjust="spacingAndGlyphs">E</text>
<text x="452.2" y="93.8" font-size="68.6" font-weight="bold" fill="#0c3b50" stroke="#0c3b50" stroke-width="4" stroke-linejoin="miter" textLength="47.0" lengthAdjust="spacingAndGlyphs">X</text>
<g fill="#2bb263">
<path fill-rule="evenodd" d="M313.4 43.8a26 26.4 0 1 0 0.01 0zM312.7 51.2a10.3 19 0 1 1 -0.01 0z"/>
<path d="M316.2 64.5h31l-0.9 2.4h-31.2z"/><path d="M315.0 68.8h30.7l-1 2.7h-30.2z"/><path d="M314.2 73.5h29.8l-1.2 3.4h-28.6z"/>
</g>
<text x="502.7" y="81.6" font-size="36.2" font-weight="bold" fill="#0c3b50" stroke="#0c3b50" stroke-width="1.4" textLength="90.6" lengthAdjust="spacingAndGlyphs">.com</text>
<g fill="#131722"><path d="M10.2 657.4h12.1v14h-6.1v-8.3h-6z"/><circle cx="26.4" cy="660.1" r="2.5"/><path d="M31.4 657.4h8l-4.9 14h-7.6z"/></g>
<text x="45" y="672.7" font-size="19.8" fill="#131722" text-anchor="start" font-weight="normal" stroke="#131722" stroke-width="0.35" textLength="105" lengthAdjust="spacingAndGlyphs" >TradingView</text>
</svg>
</body></html>
